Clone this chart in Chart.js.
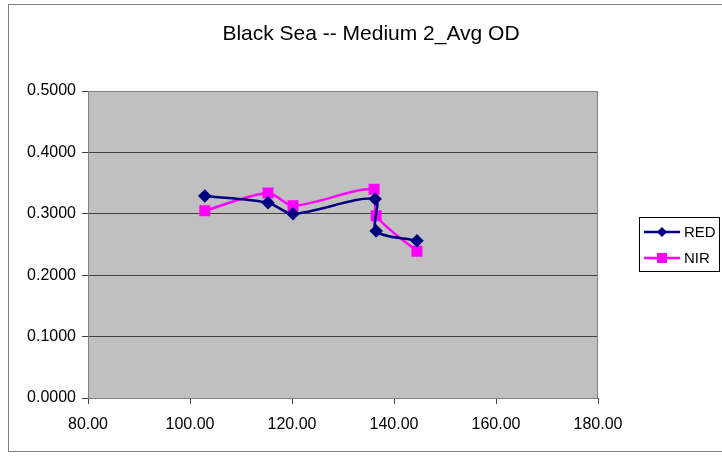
<!DOCTYPE html>
<html>
<head>
<meta charset="utf-8">
<script src="https://cdn.jsdelivr.net/npm/chart.js@4"></script>
<style>
    html, body { margin: 0; padding: 0; background: #fff; }
    #wrap { width: 722px; height: 456px; }
</style>
</head>
<body>
<div id="wrap"><canvas id="grafico"></canvas></div>
<script>
// Dados
const titulo = 'Black Sea -- Medium 2_Avg OD';
const redX = [102.9, 115.3, 120.2, 136.3, 136.5, 144.5];
const redY = [0.329, 0.318, 0.300, 0.324, 0.272, 0.256];
const nirX = [102.9, 115.3, 120.2, 136.1, 136.5, 144.5];
const nirY = [0.305, 0.334, 0.313, 0.340, 0.297, 0.239];
const xTicks = [80, 100, 120, 140, 160, 180];
const yTicks = [0, 0.1, 0.2, 0.3, 0.4, 0.5];

const fonte = '"Liberation Sans", Arial, sans-serif';

const pontos = (xs, ys) => xs.map((x, i) => ({ x: x, y: ys[i] }));

// Moldura, fundo da área, título e legenda
const moldura = {
    id: 'moldura',
    beforeDraw(chart) {
        const { ctx, chartArea: a } = chart;
        ctx.save();
        ctx.strokeStyle = '#808080';
        ctx.lineWidth = 1;
        ctx.strokeRect(8.5, 4.5, 760, 447);
        ctx.fillStyle = '#c0c0c0';
        ctx.fillRect(a.left, a.top, a.right - a.left, a.bottom - a.top);
        ctx.restore();
    },
    afterDatasetsDraw(chart) {
        const { ctx, chartArea: a } = chart;
        ctx.save();
        ctx.strokeStyle = '#808080';
        ctx.lineWidth = 1;
        ctx.strokeRect(a.left + 0.5, a.top + 0.5, a.right - a.left - 1, a.bottom - a.top);
        ctx.fillStyle = '#000';
        ctx.font = '21px ' + fonte;
        ctx.textAlign = 'center';
        ctx.textBaseline = 'middle';
        ctx.fillText(titulo, 371, 34);

        // legenda
        ctx.strokeStyle = '#000';
        ctx.strokeRect(639.5, 217.5, 80, 54);
        const itens = [
            { nome: 'RED', cor: '#000080', forma: 'diamante', y: 232 },
            { nome: 'NIR', cor: '#ff00ff', forma: 'quadrado', y: 258 }
        ];
        itens.forEach(it => {
            ctx.strokeStyle = it.cor;
            ctx.fillStyle = it.cor;
            ctx.lineWidth = 2.5;
            ctx.beginPath();
            ctx.moveTo(644, it.y);
            ctx.lineTo(680, it.y);
            ctx.stroke();
            ctx.beginPath();
            if (it.forma === 'diamante') {
                ctx.moveTo(662, it.y - 5);
                ctx.lineTo(667, it.y);
                ctx.lineTo(662, it.y + 5);
                ctx.lineTo(657, it.y);
                ctx.closePath();
            } else {
                ctx.rect(657, it.y - 5, 10, 10);
            }
            ctx.fill();
            ctx.fillStyle = '#000';
            ctx.font = '15px ' + fonte;
            ctx.textAlign = 'left';
            ctx.fillText(it.nome, 684, it.y + 1);
        });
        ctx.restore();
    }
};

new Chart(document.getElementById('grafico'), {
    type: 'scatter',
    data: {
        datasets: [
            {
                label: 'RED',
                data: pontos(redX, redY),
                showLine: true,
                borderColor: '#000080',
                backgroundColor: '#000080',
                borderWidth: 2.5,
                pointStyle: 'rectRot',
                pointRadius: 5,
                pointHoverRadius: 5,
                tension: 0.3
            },
            {
                label: 'NIR',
                data: pontos(nirX, nirY),
                showLine: true,
                borderColor: '#ff00ff',
                backgroundColor: '#ff00ff',
                borderWidth: 2.5,
                pointStyle: 'rect',
                pointRadius: 6,
                pointHoverRadius: 6,
                tension: 0.3
            }
        ]
    },
    options: {
        responsive: true,
        maintainAspectRatio: false,
        animation: false,
        layout: { padding: { left: 8, right: 124, top: 91, bottom: 0 } },
        plugins: {
            legend: { display: false },
            title: { display: false },
            tooltip: { enabled: false }
        },
        scales: {
            x: {
                type: 'linear',
                min: 80,
                max: 180,
                afterBuildTicks: scale => { scale.ticks = xTicks.map(v => ({ value: v })); },
                afterFit: scale => { scale.height = 58; },
                border: { color: '#404040', width: 1 },
                grid: { drawOnChartArea: false, color: '#404040', tickLength: 6 },
                ticks: {
                    color: '#000',
                    font: { family: fonte, size: 16 },
                    padding: 11,
                    maxRotation: 0,
                    callback: v => v.toFixed(2)
                }
            },
            y: {
                type: 'linear',
                min: 0,
                max: 0.5,
                afterBuildTicks: scale => { scale.ticks = yTicks.map(v => ({ value: v })); },
                afterFit: scale => { scale.width = 80; },
                border: { color: '#808080', width: 1 },
                grid: { color: '#404040', tickLength: 6 },
                ticks: {
                    color: '#000',
                    font: { family: fonte, size: 16 },
                    padding: 6,
                    callback: v => v.toFixed(4)
                }
            }
        }
    },
    plugins: [moldura]
});
</script>
</body>
</html>
